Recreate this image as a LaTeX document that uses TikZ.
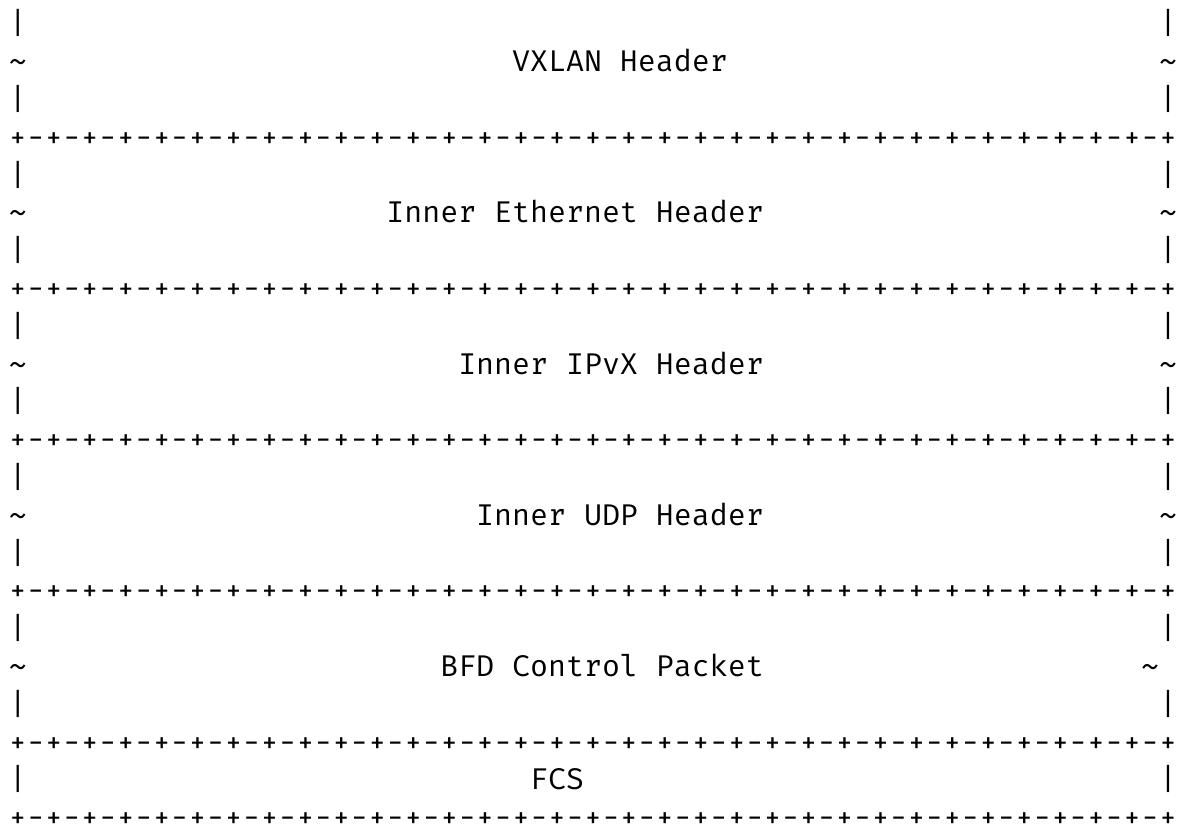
\documentclass[tikz,border=0pt]{standalone}
\usepackage{fontspec}
\newfontfamily\asciimono{Fira Mono}
\newcommand\eightpairs{+-+-+-+-+-+-+-+-}
\newcommand\plusrow{\eightpairs\eightpairs\eightpairs\eightpairs+}
\newcommand\tld{\string~}
\tikzset{
  asc/.style={anchor=base west, inner sep=0pt, outer sep=0pt, text=black,
    font=\asciimono\fontsize{29.95}{36}\selectfont}
}
\newcommand\cell[4]{\node[asc] (#1) at ({9+17.97*#2},{792.1-37.8*#3}) {#4};}
\begin{document}
\begin{tikzpicture}[x=1pt,y=1pt]
\useasboundingbox (0,0) rectangle (1182,826);
% VXLAN header
\cell{l0}{0}{0}{|}\cell{r0}{64}{0}{|}
\cell{l1}{0}{1}{\tld}\cell{vxlan}{28}{1}{VXLAN Header}\cell{r1}{64}{1}{\tld}
\cell{l2}{0}{2}{|}\cell{r2}{64}{2}{|}
\cell{p3}{0}{3}{\plusrow}
% Inner Ethernet
\cell{l4}{0}{4}{|}\cell{r4}{64}{4}{|}
\cell{l5}{0}{5}{\tld}\cell{eth}{21}{5}{Inner Ethernet Header}\cell{r5}{64}{5}{\tld}
\cell{l6}{0}{6}{|}\cell{r6}{64}{6}{|}
\cell{p7}{0}{7}{\plusrow}
% Inner IPvX
\cell{l8}{0}{8}{|}\cell{r8}{64}{8}{|}
\cell{l9}{0}{9}{\tld}\cell{ipvx}{25}{9}{Inner IPvX Header}\cell{r9}{64}{9}{\tld}
\cell{l10}{0}{10}{|}\cell{r10}{64}{10}{|}
\cell{p11}{0}{11}{\plusrow}
% Inner UDP
\cell{l12}{0}{12}{|}\cell{r12}{64}{12}{|}
\cell{l13}{0}{13}{\tld}\cell{udp}{26}{13}{Inner UDP Header}\cell{r13}{64}{13}{\tld}
\cell{l14}{0}{14}{|}\cell{r14}{64}{14}{|}
\cell{p15}{0}{15}{\plusrow}
% BFD Control Packet
\cell{l16}{0}{16}{|}\cell{r16}{64}{16}{|}
\cell{l17}{0}{17}{\tld}\cell{bfd}{24}{17}{BFD Control Packet}\cell{r17}{63}{17}{\tld}
\cell{l18}{0}{18}{|}\cell{r18}{64}{18}{|}
\cell{p19}{0}{19}{\plusrow}
% FCS
\cell{l20}{0}{20}{|}\cell{fcs}{29}{20}{FCS}\cell{r20}{64}{20}{|}
\cell{p21}{0}{21}{\plusrow}
\end{tikzpicture}
\end{document}
